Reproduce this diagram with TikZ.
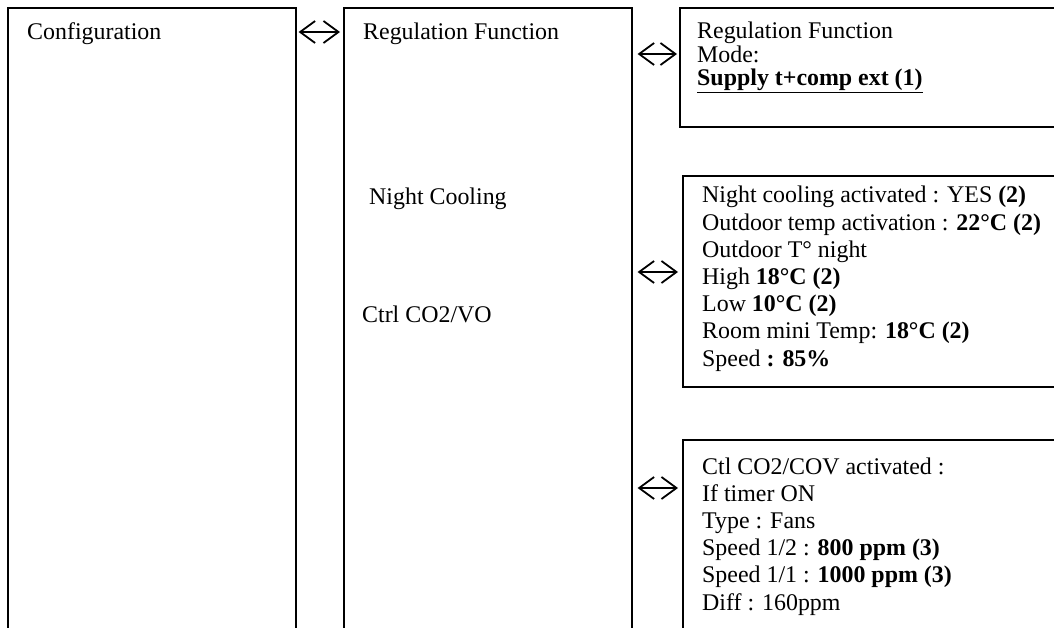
\documentclass[tikz,border=0pt]{standalone}
\usepackage{fontspec}
\setmainfont{Liberation Serif}
\usepackage{tikz}
\usetikzlibrary{arrows.meta, positioning}

\begin{document}
\begin{tikzpicture}[x=1pt, y=-1pt,
    box/.style={draw, line width=1.6pt, inner sep=0pt, anchor=north west},
    txt/.style={inner sep=0pt, anchor=base west, align=left,
        font=\fontsize{23.9}{27.2}\selectfont},
    biarrow/.style={line width=1.8pt,
        {Straight Barb[length=15pt, width=22pt]}-{Straight Barb[length=15pt, width=22pt]}}]
    % page
    \useasboundingbox (0,0) rectangle (1054,628);
    \clip (0,0) rectangle (1054,628);

    % colonnes
    \node[box, minimum width=288pt, minimum height=640pt] (cfg) at (7,7) {};
    \node[box, minimum width=288pt, minimum height=640pt] (mid) at (343,7) {};
    \node[box, minimum width=400pt, minimum height=119pt] (regbox) at (679,7) {};
    \node[box, minimum width=400pt, minimum height=211pt] (nightbox) at (682,175) {};
    \node[box, minimum width=400pt, minimum height=220pt] (co2box) at (682,439) {};

    % textes (ancre = ligne de base de la derniere ligne)
    \node[txt] (cfgtxt) at (27,40) {Configuration};
    \node[txt] (regtxt) at (363,40) {Regulation Function};
    \node[txt] (nighttxt) at (369,205) {Night Cooling};
    \node[txt] (ctrltxt) at (362,322) {Ctrl CO2/VO};

    \node[txt, font=\fontsize{23.9}{23.5}\selectfont] (modetxt) at (697,86) {Regulation Function\\
        Mode:\\
        \underline{\textbf{Supply t+comp ext (1)}}};
    \node[txt] (nightinfo) at (702,366) {Night cooling activated : YES \textbf{(2)}\\
        Outdoor temp activation : \textbf{22°C (2)}\\
        Outdoor T° night\\
        High \textbf{18°C (2)}\\
        Low \textbf{10°C (2)}\\
        Room mini Temp: \textbf{18°C (2)}\\
        Speed \textbf{: 85\%}};
    \node[txt] (co2info) at (702,610) {Ctl CO2/COV activated :\\
        If timer ON\\
        Type : Fans\\
        Speed 1/2 : \textbf{800 ppm (3)}\\
        Speed 1/1 : \textbf{1000 ppm (3)}\\
        Diff : 160ppm};

    % fleches
    \draw[biarrow, shorten <=2pt, shorten >=3pt] (cfg.east |- 0,32) -- (mid.west |- 0,32);
    \draw[biarrow, shorten <=5pt, shorten >=2pt] (mid.east |- 0,54) -- (regbox.west |- 0,54);
    \draw[biarrow, shorten <=5pt, shorten >=4pt] (mid.east |- 0,272) -- (nightbox.west |- 0,272);
    \draw[biarrow, shorten <=5pt, shorten >=4pt] (mid.east |- 0,488) -- (co2box.west |- 0,488);
\end{tikzpicture}
\end{document}
